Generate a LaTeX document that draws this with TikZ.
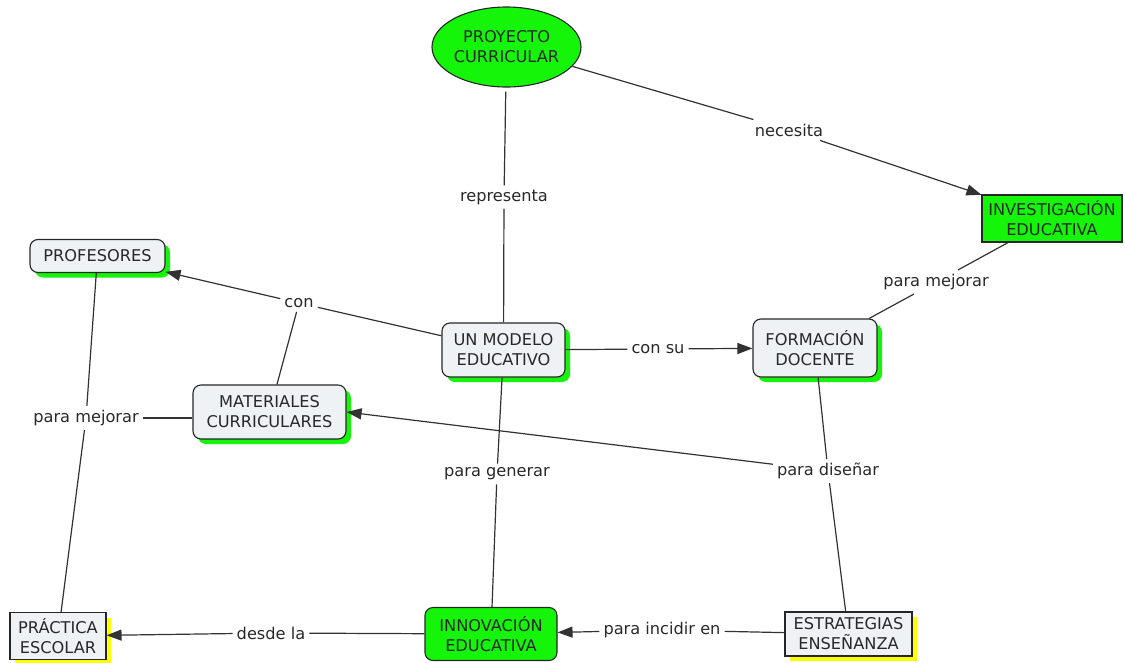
\documentclass[tikz,border=0pt]{standalone}
\usepackage{fontspec}
\setmainfont{DejaVu Sans}
\usetikzlibrary{arrows.meta,shapes.geometric,shadows}
\definecolor{cmgreen}{RGB}{20,245,10}
\definecolor{cmyellow}{RGB}{255,255,0}
\definecolor{nodefill}{RGB}{238,242,245}
\definecolor{txt}{RGB}{40,40,40}
\definecolor{linec}{RGB}{50,50,50}
\begin{document}
\begin{tikzpicture}[x=1pt,y=-1pt,
  every node/.style={font=\fontsize{16.2}{20}\selectfont, text=txt},
  concept/.style={draw=black!85, line width=1.1pt, rounded corners=8pt, fill=nodefill,
    align=center, inner sep=0pt,
    drop shadow={shadow xshift=5pt,shadow yshift=-5pt,fill=cmgreen,opacity=1}},
  greenbox/.style={draw=black!85, line width=1.1pt, fill=cmgreen, align=center, inner sep=0pt},
  greenround/.style={greenbox, rounded corners=8pt},
  yellowbox/.style={draw=black!85, line width=1.1pt, fill=nodefill, align=center, inner sep=0pt,
    drop shadow={shadow xshift=5pt,shadow yshift=-5pt,fill=cmyellow,opacity=1}},
  lbl/.style={inner sep=4pt},
  link/.style={draw=linec, line width=1.2pt},
  arr/.style={link, -{Triangle[length=15pt,width=11pt]}}
]
\useasboundingbox (0,0) rectangle (1125,662);

% concepts
\node[greenbox, ellipse, minimum width=143pt, minimum height=80pt] (proy) at (506.5,47) {PROYECTO\\CURRICULAR};
\node[greenbox, minimum width=140pt, minimum height=47pt] (inv) at (1052,218.5) {INVESTIGACIÓN\\EDUCATIVA};
\node[concept, minimum width=135pt, minimum height=33pt] (prof) at (97.5,256) {PROFESORES};
\node[concept, minimum width=153pt, minimum height=54pt] (mat) at (269.5,412) {MATERIALES\\CURRICULARES};
\node[concept, minimum width=123pt, minimum height=54pt] (modelo) at (503.5,350) {UN MODELO\\EDUCATIVO};
\node[concept, minimum width=124pt, minimum height=58pt] (form) at (815,348) {FORMACIÓN\\DOCENTE};
\node[yellowbox, minimum width=96pt, minimum height=47pt] (prac) at (58,636) {PRÁCTICA\\ESCOLAR};
\node[greenround, minimum width=132pt, minimum height=53pt] (innov) at (491,634) {INNOVACIÓN\\EDUCATIVA};
\node[yellowbox, minimum width=127pt, minimum height=44pt] (estr) at (848.5,634) {ESTRATEGIAS\\ENSEÑANZA};

% linking phrases
\node[lbl] (rep) at (504,197) {representa};
\node[lbl] (nec) at (789,130) {necesita};
\node[lbl] (pm1) at (936,282) {para mejorar};
\node[lbl] (con) at (299,303) {con};
\node[lbl] (consu) at (658,349) {con su};
\node[lbl] (pm2) at (86,418) {para mejorar};
\node[lbl] (pg) at (497,474) {para generar};
\node[lbl] (pd) at (828,471) {para diseñar};
\node[lbl] (desde) at (271,633) {desde la};
\node[lbl] (pic) at (662,630) {para incidir en};

% connectors
\draw[link, shorten <=4pt] (proy) -- (rep);
\draw[link] (rep) -- (modelo);
\draw[link] (proy) -- (nec);
\draw[arr] (nec) -- (inv);
\draw[link] (inv) -- (pm1);
\draw[link] (pm1) -- (form);
\draw[link] (modelo) -- (con);
\draw[arr] (con) -- (prof);
\draw[link] (con) -- (mat);
\draw[link] (modelo) -- (consu);
\draw[arr] (consu) -- (form);
\draw[link] (modelo) -- (pg);
\draw[link] (pg) -- (innov);
\draw[link] (form) -- (pd);
\draw[arr] (pd) -- (mat.east);
\draw[link] (pd) -- (estr);
\draw[link] (prof) -- (pm2);
\draw[link] (pm2) -- (pm2 -| mat.west);
\draw[link] (pm2) -- (prac);
\draw[link] (innov) -- (desde);
\draw[arr] (desde) -- (prac);
\draw[link] (estr) -- (pic);
\draw[arr] (pic) -- (innov);
\end{tikzpicture}
\end{document}
